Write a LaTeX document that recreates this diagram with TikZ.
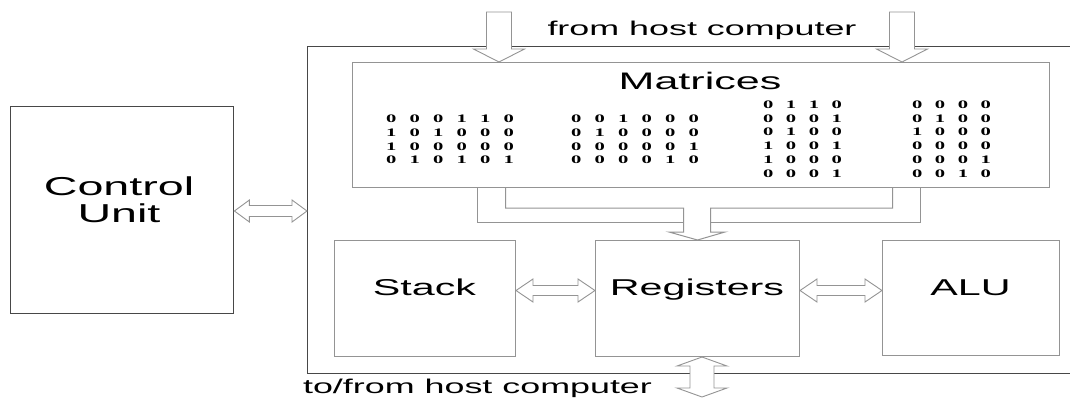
\documentclass[tikz,border=0pt]{standalone}
\usepackage{fontspec}
\usetikzlibrary{matrix,calc}
% wide sans for labels, wide bold serif for the matrix entries
\newfontfamily\labfont[FakeStretch=1.8]{Liberation Sans}
\newfontfamily\digfont[FakeStretch=1.8]{Liberation Serif}

% hollow block arrow pointing down: #1 tail, #2 tip, #3 shaft half-width, #4 head half-width, #5 head length
\newcommand\blockdown[5]{%
  \draw[blockarrow] let \p1=(#1), \p2=(#2) in
    (\x2-#3,\y1) -- (\x2-#3,\y2+#5) -- (\x2-#4,\y2+#5) -- (\x2,\y2)
    -- (\x2+#4,\y2+#5) -- (\x2+#3,\y2+#5) -- (\x2+#3,\y1) -- cycle;}
% hollow horizontal double arrow: #1 left tip, #2 right tip
\newcommand\blockdouble[5]{%
  \draw[blockarrow] let \p1=(#1), \p2=(#2) in
    (\x1,\y1) -- (\x1+#5,\y1+#4) -- (\x1+#5,\y1+#3) -- (\x2-#5,\y1+#3)
    -- (\x2-#5,\y1+#4) -- (\x2,\y1) -- (\x2-#5,\y1-#4) -- (\x2-#5,\y1-#3)
    -- (\x1+#5,\y1-#3) -- (\x1+#5,\y1-#4) -- cycle;}
% hollow vertical double arrow: #1 top tip, #2 bottom tip
\newcommand\blockvdouble[5]{%
  \draw[blockarrow] let \p1=(#1), \p2=(#2) in
    (\x1,\y1) -- (\x1+#4,\y1-#5) -- (\x1+#3,\y1-#5) -- (\x1+#3,\y2+#5)
    -- (\x1+#4,\y2+#5) -- (\x1,\y2) -- (\x1-#4,\y2+#5) -- (\x1-#3,\y2+#5)
    -- (\x1-#3,\y1-#5) -- (\x1-#4,\y1-#5) -- cycle;}

\tikzset{
  frame/.style={draw=black!72, line width=1.4bp, inner sep=0, anchor=north west},
  box/.style={draw=black!42, line width=1bp, inner sep=0, anchor=north west},
  busline/.style={draw=black!42, line width=1bp},
  blockarrow/.style={draw=black!42, line width=0.9bp, fill=white, line join=miter},
  lab/.style={font={\labfont\fontsize{23}{27}\selectfont}, inner sep=0},
  biglab/.style={font={\labfont\fontsize{26}{27}\selectfont}, inner sep=0, align=center},
  hostlab/.style={font={\labfont\fontsize{20}{24}\selectfont}, inner sep=0},
  bits/.style={matrix of nodes, inner sep=0,
    nodes={inner sep=0, minimum height=13.75bp,
      font={\digfont\bfseries\fontsize{11.5}{12}\selectfont}}},
  bits6/.style={bits, nodes={minimum width=23.5bp}},
  bits4/.style={bits, nodes={minimum width=22.8bp}},
}

\begin{document}
\begin{tikzpicture}[x=1bp, y=-1bp]
\useasboundingbox (0,0) rectangle (1070,399);
\fill[white] (0,0) rectangle (1070,399);

% outer blocks
\node[frame, minimum width=223bp, minimum height=207bp] (cu) at (10,106) {};
\node[biglab] (cutext) at (119,200) {Control\\Unit};
\node[frame, minimum width=768bp, minimum height=327bp] (main) at (307,46) {};

% matrix store
\node[box, minimum width=697bp, minimum height=125bp] (mat) at (352,62) {};
\node[lab, font={\labfont\fontsize{24}{27}\selectfont}, anchor=base] (mattext) at (700,89) {Matrices};

\matrix (m1) [bits6] at (450,139.5) {
0 & 0 & 0 & 1 & 1 & 0 \\
1 & 0 & 1 & 0 & 0 & 0 \\
1 & 0 & 0 & 0 & 0 & 0 \\
0 & 1 & 0 & 1 & 0 & 1 \\
};
\matrix (m2) [bits6] at (635,139.5) {
0 & 0 & 1 & 0 & 0 & 0 \\
0 & 1 & 0 & 0 & 0 & 0 \\
0 & 0 & 0 & 0 & 0 & 1 \\
0 & 0 & 0 & 0 & 1 & 0 \\
};
\matrix (m3) [bits4] at (802.5,139) {
0 & 1 & 1 & 0 \\
0 & 0 & 0 & 1 \\
0 & 1 & 0 & 0 \\
1 & 0 & 0 & 1 \\
1 & 0 & 0 & 0 \\
0 & 0 & 0 & 1 \\
};
\matrix (m4) [bits4] at (951.5,139) {
0 & 0 & 0 & 0 \\
0 & 1 & 0 & 0 \\
1 & 0 & 0 & 0 \\
0 & 0 & 0 & 0 \\
0 & 0 & 0 & 1 \\
0 & 0 & 1 & 0 \\
};

% processing units
\node[box, minimum width=181bp, minimum height=116bp] (stack) at (334,240) {};
\node[box, minimum width=204bp, minimum height=116bp] (reg) at (595,240) {};
\node[box, minimum width=177bp, minimum height=115bp] (alu) at (882,240) {};
\node[lab, anchor=base] (stacktext) at (424.5,295) {Stack};
\node[lab, anchor=base] (regtext) at (697,295) {Registers};
\node[lab, anchor=base] (alutext) at (970.5,295) {ALU};

% host labels
\node[hostlab, anchor=base] (hostin) at (702,35) {from host computer};
\node[hostlab, anchor=base] (hostio) at (477.5,393) {to/from host computer};

% input arrows from the host
\coordinate (hostL) at (499,12);
\coordinate (hostR) at (902,12);
\blockdown{hostL}{hostL |- mat.north}{12.5bp}{25.5bp}{13bp}
\blockdown{hostR}{hostR |- mat.north}{12.5bp}{25.5bp}{13bp}

% bus from the matrix store into the registers
\draw[busline] (477,187) -- (477,222) -- (683.5,222);
\draw[busline] (710.5,222) -- (920,222) -- (920,187);
\draw[busline] (505.5,187) -- (505.5,208) -- (683.5,208) -- (683.5,232)
  -- (669,232) -- (reg.north) -- (725,232) -- (710.5,232) -- (710.5,208)
  -- (892.5,208) -- (892.5,187);

% data paths
\coordinate (cuy) at (0,211);
\coordinate (unity) at (0,290.5);
\blockdouble{cu.east |- cuy}{main.west |- cuy}{5.5bp}{11bp}{15bp}
\blockdouble{stack.east |- unity}{reg.west |- unity}{5bp}{11.5bp}{17bp}
\blockdouble{reg.east |- unity}{alu.west |- unity}{5bp}{11.5bp}{17bp}
\coordinate (hostB) at (702,397);
\blockvdouble{hostB |- reg.south}{hostB}{12bp}{25bp}{9bp}
\end{tikzpicture}
\end{document}
